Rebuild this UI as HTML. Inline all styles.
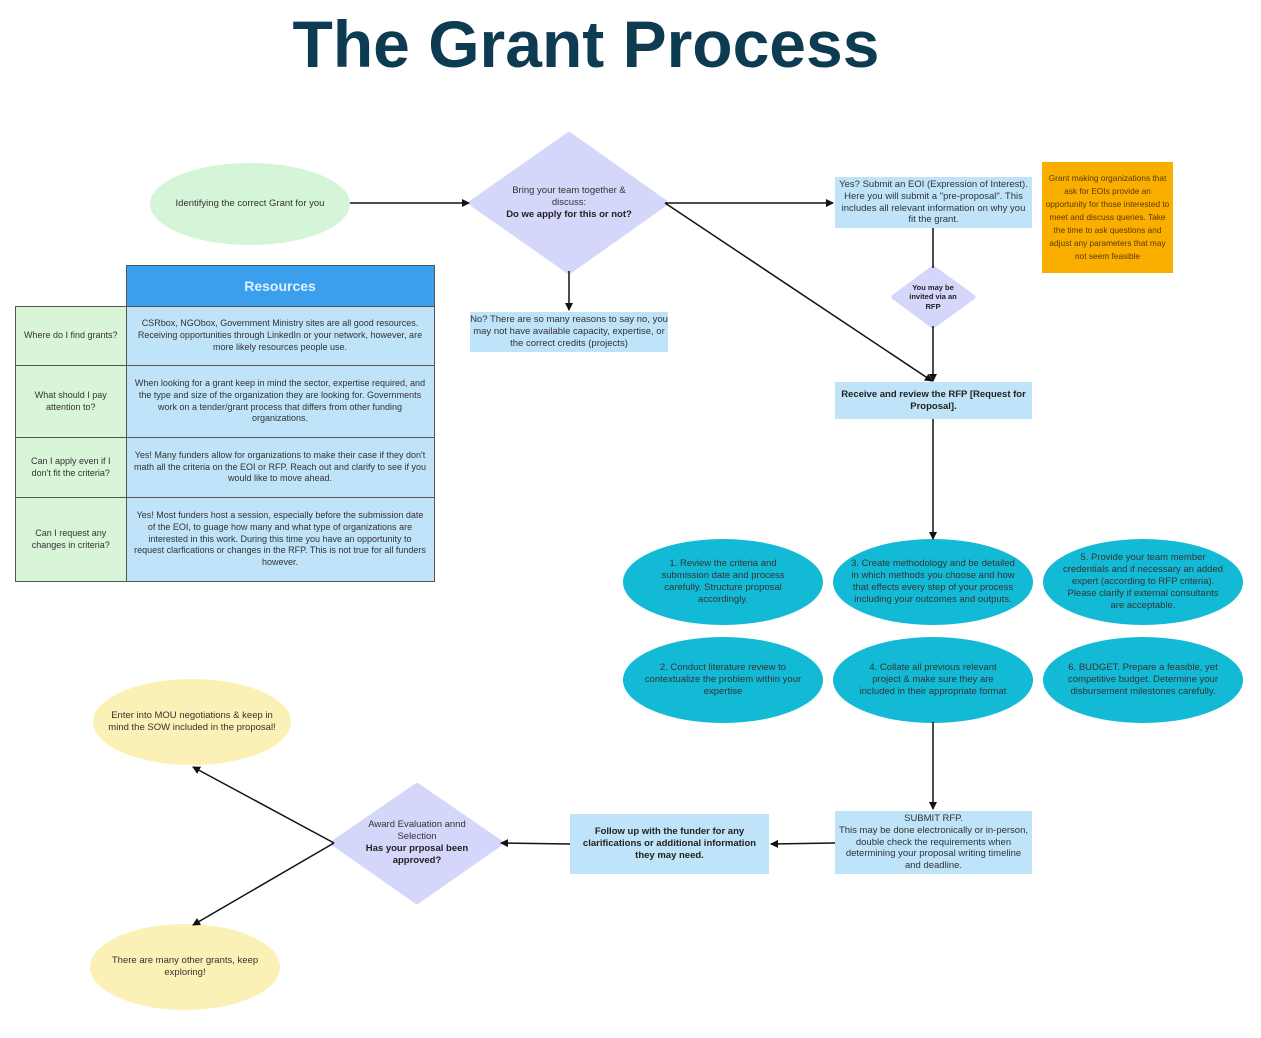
<!DOCTYPE html>
<html><head><meta charset="utf-8">
<style>
html,body{margin:0;padding:0;background:#fff;}
body{width:1261px;height:1038px;position:relative;overflow:hidden;font-family:"Liberation Sans",sans-serif;color:#333;}
.t{position:absolute;display:flex;align-items:center;justify-content:center;text-align:center;font-size:9.5px;line-height:1.25;color:#333;box-sizing:border-box;}
.b{font-weight:bold;color:#222;}
h1{position:absolute;left:0;width:1172px;top:6px;margin:0;text-align:center;font-size:66px;font-weight:bold;color:#0d3b52;letter-spacing:0px;}
table{position:absolute;left:15px;top:265px;border-collapse:collapse;font-size:9px;line-height:1.3;}
td{border:1.5px solid #555;text-align:center;vertical-align:middle;padding:0 6px;color:#333;}
</style></head><body>
<h1>The Grant Process</h1>
<svg width="1261" height="1038" style="position:absolute;left:0;top:0">
<defs><marker id="a" markerWidth="8" markerHeight="8" refX="7" refY="4" orient="auto" markerUnits="userSpaceOnUse"><path d="M0,0 L8,4 L0,8 Z" fill="#111"/></marker></defs>
<ellipse cx="250" cy="204" rx="100" ry="41" fill="#d5f5d8"/>
<polygon points="569,135 665,203 569,271 472,203" fill="#d4d6fa" stroke="#d4d6fa" stroke-width="6" stroke-linejoin="round"/>
<rect x="470" y="312" width="198" height="40" fill="#bfe3f8"/>
<rect x="835" y="177" width="197" height="51" fill="#bfe3f8"/>
<rect x="1042" y="162" width="131" height="111" fill="#f9ae00"/>
<polygon points="933,268 973,297 933,326 894,297" fill="#d4d6fa" stroke="#d4d6fa" stroke-width="5" stroke-linejoin="round"/>
<rect x="835" y="382" width="197" height="37" fill="#bfe3f8"/>
<g fill="#13bad6">
<ellipse cx="723" cy="582" rx="100" ry="43"/><ellipse cx="933" cy="582" rx="100" ry="43"/><ellipse cx="1143" cy="582" rx="100" ry="43"/>
<ellipse cx="723" cy="680" rx="100" ry="43"/><ellipse cx="933" cy="680" rx="100" ry="43"/><ellipse cx="1143" cy="680" rx="100" ry="43"/>
</g>
<rect x="835" y="811" width="197" height="63" fill="#bfe3f8"/>
<rect x="570" y="814" width="199" height="60" fill="#bfe3f8"/>
<polygon points="417,786 500,843 417,901 334,843" fill="#d4d6fa" stroke="#d4d6fa" stroke-width="6" stroke-linejoin="round"/>
<ellipse cx="192" cy="722" rx="99" ry="43" fill="#fbf0b5"/>
<ellipse cx="185" cy="967" rx="95" ry="43" fill="#fbf0b5"/>
<g stroke="#111" stroke-width="1.5" fill="none">
<line x1="350" y1="203" x2="469" y2="203" marker-end="url(#a)"/>
<line x1="569" y1="271" x2="569" y2="310" marker-end="url(#a)"/>
<line x1="665" y1="203" x2="833" y2="203" marker-end="url(#a)"/>
<line x1="665" y1="203" x2="932" y2="381" marker-end="url(#a)"/>
<line x1="933" y1="228" x2="933" y2="268"/>
<line x1="933" y1="326" x2="933" y2="381" marker-end="url(#a)"/>
<line x1="933" y1="419" x2="933" y2="539" marker-end="url(#a)"/>
<line x1="933" y1="722" x2="933" y2="809" marker-end="url(#a)"/>
<line x1="835" y1="843" x2="771" y2="844" marker-end="url(#a)"/>
<line x1="570" y1="844" x2="501" y2="843" marker-end="url(#a)"/>
<line x1="334" y1="843" x2="193" y2="767" marker-end="url(#a)"/>
<line x1="334" y1="843" x2="193" y2="925" marker-end="url(#a)"/>
</g>
</svg>
<div class="t" style="left:165px;top:185px;width:170px;height:38px;">Identifying the correct Grant for you</div>
<div class="t" style="left:495px;top:175px;width:148px;height:56px;"><div>Bring your team together &amp; discuss:<br><span class="b">Do we apply for this or not?</span></div></div>
<div class="t" style="left:470px;top:312px;width:198px;height:40px;">No? There are so many reasons to say no, you may not have available capacity, expertise, or the correct credits (projects)</div>
<div class="t" style="left:838px;top:177px;width:191px;height:51px;">Yes? Submit an EOI (Expression of Interest). Here you will submit a "pre-proposal". This includes all relevant information on why you fit the grant.</div>
<div class="t" style="left:1044px;top:162px;width:127px;height:111px;font-size:8.3px;line-height:1.55;color:#5a3a00;">Grant making organizations that ask for EOIs provide an opportunity for those interested to meet and discuss queries. Take the time to ask questions and adjust any parameters that may not seem feasible</div>
<div class="t b" style="left:903px;top:280px;width:60px;height:34px;font-size:7.5px;">You may be invited via an RFP</div>
<div class="t b" style="left:835px;top:382px;width:197px;height:37px;">Receive and review the RFP [Request for Proposal].</div>
<div class="t" style="left:648px;top:550px;width:150px;height:64px;">1. Review the criteria and submission date and process carefully. Structure proposal accordingly.</div>
<div class="t" style="left:850px;top:550px;width:166px;height:64px;">3. Create methodology and be detailed in which methods you choose and how that effects every step of your process including your outcomes and outputs.</div>
<div class="t" style="left:1060px;top:550px;width:166px;height:64px;">5. Provide your team member credentials and if necessary an added expert (according to RFP criteria). Please clarify if external consultants are acceptable.</div>
<div class="t" style="left:640px;top:655px;width:166px;height:50px;">2. Conduct literature review to contextualize the problem within your expertise</div>
<div class="t" style="left:855px;top:655px;width:156px;height:50px;">4. Collate all previous relevant project &amp; make sure they are included in their appropriate format</div>
<div class="t" style="left:1063px;top:655px;width:160px;height:50px;">6. BUDGET. Prepare a feasible, yet competitive budget. Determine your disbursement milestones carefully.</div>
<div class="t" style="left:838px;top:811px;width:191px;height:63px;">SUBMIT RFP.<br>This may be done electronically or in-person, double check the requirements when determining your proposal writing timeline and deadline.</div>
<div class="t b" style="left:572px;top:814px;width:195px;height:60px;">Follow up with the funder for any clarifications or additional information they may need.</div>
<div class="t" style="left:355px;top:815px;width:124px;height:56px;"><div>Award Evaluation annd Selection<br><span class="b">Has your prposal been approved?</span></div></div>
<div class="t" style="left:108px;top:700px;width:168px;height:44px;">Enter into MOU negotiations &amp; keep in mind the SOW included in the proposal!</div>
<div class="t" style="left:105px;top:950px;width:160px;height:34px;">There are many other grants, keep exploring!</div>
<table>
<tr style="height:41px"><td style="border:none;border-bottom:1.5px solid #555;width:98px;background:#fff"></td><td style="background:#3aa0ee;color:#dff0ff;font-size:14px;font-weight:bold;width:295px">Resources</td></tr>
<tr style="height:59px"><td style="background:#d8f5d8">Where do I find grants?</td><td style="background:#bfe3f8">CSRbox, NGObox, Government Ministry sites are all good resources. Receiving opportunities through LinkedIn or your network, however, are more likely resources people use.</td></tr>
<tr style="height:72px"><td style="background:#d8f5d8">What should I pay attention to?</td><td style="background:#bfe3f8">When looking for a grant keep in mind the sector, expertise required, and the type and size of the organization they are looking for. Governments work on a tender/grant process that differs from other funding organizations.</td></tr>
<tr style="height:60px"><td style="background:#d8f5d8">Can I apply even if I don't fit the criteria?</td><td style="background:#bfe3f8">Yes! Many funders allow for organizations to make their case if they don't math all the criteria on the EOI or RFP. Reach out and clarify to see if you would like to move ahead.</td></tr>
<tr style="height:84px"><td style="background:#d8f5d8">Can I request any changes in criteria?</td><td style="background:#bfe3f8">Yes! Most funders host a session, especially before the submission date of the EOI, to guage how many and what type of organizations are interested in this work. During this time you have an opportunity to request clarfications or changes in the RFP. This is not true for all funders however.</td></tr>
</table>
</body></html>
